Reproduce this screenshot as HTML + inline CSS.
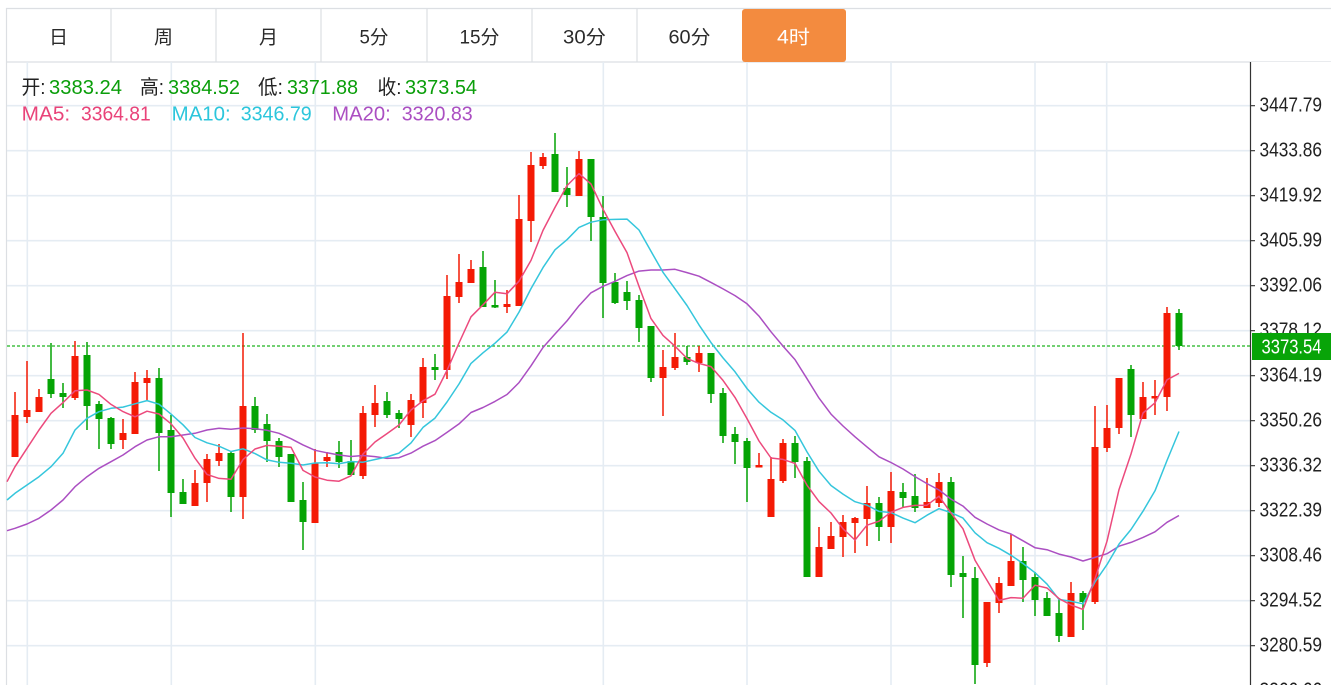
<!DOCTYPE html>
<html><head><meta charset="utf-8"><style>
html,body{margin:0;padding:0;background:#fff;overflow:hidden;width:1331px;height:685px}
svg{display:block}
text{font-family:"Liberation Sans","Noto Sans CJK SC",sans-serif}
</style></head><body>
<svg width="1331" height="685" viewBox="0 0 1331 685" xmlns="http://www.w3.org/2000/svg">
<rect x="0" y="0" width="1331" height="685" fill="#fff"/>
<path stroke="#dcdfe3" stroke-width="1.2" fill="none" d="M6 8.5H1331M6 62H1331M6.5 8V685M111 8V62M216 8V62M321 8V62M427 8V62M532 8V62M637 8V62"/>
<rect x="742" y="9" width="104" height="53" rx="3" fill="#f38b3f"/>
<g font-size="19" fill="#2a2a2a" text-anchor="middle">
<text x="58.5" y="43.5">日</text>
<text x="163.5" y="43.5">周</text>
<text x="268.5" y="43.5">月</text>
<text x="374" y="43.5" textLength="29" lengthAdjust="spacingAndGlyphs">5分</text>
<text x="479.5" y="43.5" textLength="40" lengthAdjust="spacingAndGlyphs">15分</text>
<text x="584.5" y="43.5" textLength="43" lengthAdjust="spacingAndGlyphs">30分</text>
<text x="689.5" y="43.5" textLength="42" lengthAdjust="spacingAndGlyphs">60分</text>
<text x="793.5" y="43.5" fill="#fff" textLength="33" lengthAdjust="spacingAndGlyphs">4时</text>
</g>
<path stroke="#e5ecf3" stroke-width="1.6" fill="none" d="M7 105.7H1250M7 150.7H1250M7 195.7H1250M7 240.7H1250M7 285.7H1250M7 330.7H1250M7 375.7H1250M7 420.7H1250M7 465.7H1250M7 510.7H1250M7 555.7H1250M7 600.7H1250M7 645.7H1250M27.3 62V685M171.3 62V685M315.3 62V685M603.3 62V685M747 62V685M891 62V685M1035 62V685M1106.7 62V685"/>
<g font-size="20">
<text x="21.5" y="94" fill="#222" textLength="24" lengthAdjust="spacingAndGlyphs">开:</text>
<text x="49" y="94" fill="#0a9e0a" textLength="73" lengthAdjust="spacingAndGlyphs">3383.24</text>
<text x="140" y="94" fill="#222" textLength="24" lengthAdjust="spacingAndGlyphs">高:</text>
<text x="168" y="94" fill="#0a9e0a" textLength="72" lengthAdjust="spacingAndGlyphs">3384.52</text>
<text x="258" y="94" fill="#222" textLength="25" lengthAdjust="spacingAndGlyphs">低:</text>
<text x="287" y="94" fill="#0a9e0a" textLength="71" lengthAdjust="spacingAndGlyphs">3371.88</text>
<text x="377.5" y="94" fill="#222" textLength="24" lengthAdjust="spacingAndGlyphs">收:</text>
<text x="405" y="94" fill="#0a9e0a" textLength="72" lengthAdjust="spacingAndGlyphs">3373.54</text>
<text x="21.7" y="120.7" fill="#e94379" textLength="48.5" lengthAdjust="spacingAndGlyphs">MA5:</text>
<text x="81" y="120.7" fill="#e94379" textLength="69.7" lengthAdjust="spacingAndGlyphs">3364.81</text>
<text x="171.7" y="120.7" fill="#2cc6dc" textLength="59" lengthAdjust="spacingAndGlyphs">MA10:</text>
<text x="240.7" y="120.7" fill="#2cc6dc" textLength="71" lengthAdjust="spacingAndGlyphs">3346.79</text>
<text x="332.3" y="120.7" fill="#ab4fc2" textLength="58.4" lengthAdjust="spacingAndGlyphs">MA20:</text>
<text x="401.7" y="120.7" fill="#ab4fc2" textLength="71" lengthAdjust="spacingAndGlyphs">3320.83</text>
</g>
<line x1="7" y1="346" x2="1250" y2="346" stroke="#1fb51f" stroke-width="1.3" stroke-dasharray="3,2"/>
<path stroke="#f41a05" stroke-width="1.5" fill="none" d="M15 392V457M27 361V423M39 389V412M75 341V400M123 419V449M135 372V434M147 370V400M195 470V506M207 454V502M219 444V466M243 333V519M315 449V523M327 452V467M363 406V479M375 385V427M411 394V437M423 358V418M447 275V379M459 254V303M471 260V283M507 290V313M519 195V306M531 152V242M543 153V169M579 151V196M663 350V416M675 333V370M699 346V372M759 453V467M771 457V517M783 439V483M819 527V577M831 522V549M843 515V557M855 517V553M867 486V546M891 472V543M927 478V508M939 473V507M987 602V667M999 577V613M1011 534V586M1071 582V637M1095 406V604M1107 405V452M1119 378V434M1143 382V419M1155 380V415M1167 307V411"/>
<path stroke="#05a405" stroke-width="1.5" fill="none" d="M51 343V398M63 383V408M87 342V430M99 401V449M111 417V449M159 368V471M171 415V517M183 479V504M231 451V512M255 397V433M267 414V462M279 438V467M291 454V502M303 482V550M339 441V468M351 440V475M387 392V418M399 410V428M435 354V380M483 251V307M495 280V308M555 133V192M567 167V207M591 159V241M603 196V318M615 273V304M627 281V310M639 295V342M651 326V382M687 346V365M711 353V403M723 388V443M735 427V464M747 438V502M795 436V478M807 457V577M879 497V541M903 483V508M915 474V512M951 477V587M963 556V618M975 567V684M1023 547V602M1035 572V616M1047 592V616M1059 598V642M1083 591V630M1131 365V437M1179 309V350"/>
<path stroke="#f41a05" stroke-width="7" fill="none" d="M15 415V457M27 410V417M39 397V412M75 356V398M123 433V440M135 382V434M147 378V383M195 483V506M207 459V483M219 453V461M243 406V497M315 463V523M327 457V461M363 413V476M375 403V415M411 400V425M423 367V403M447 296V370M459 282V297M471 269V283M507 304V307M519 219V306M531 165V221M543 157V166M579 159V196M663 367V378M675 357V368M699 353V363M759 465V467.5M771 479V517M783 443V481M819 547V577M831 536V549M843 522V537M855 518V523M867 503V519M891 491V527M927 502V508M939 482V503M987 602V663M999 583V603M1011 561V586M1071 593V637M1095 447V602M1107 428V448M1119 378V428M1143 397V419M1155 396V398.5M1167 313V397"/>
<path stroke="#05a405" stroke-width="7" fill="none" d="M51 379V394M63 393V397M87 355V406M99 404V419M111 418V444M159 378V433M171 430V493M183 492V504M231 453V497M255 406V430M267 424V441M279 441V457M291 454V502M303 500V522M339 452V462M351 461V475M387 401V415M399 413V419M435 367V370M483 267V307M495 305V307.5M555 154V192M567 188V195M591 159V217M603 217V283M615 282V303M627 292V301M639 300V328M651 326V378M687 357V362M711 353V394M723 393V436M735 434V442M747 441V468M795 443V462M807 461V577M879 503V527M903 492V498M915 496V508M951 482V575M963 573V577M975 578V665M1023 561V580M1035 577V600M1047 598V616M1059 613V636M1083 593V602M1131 369V415M1179 313V346"/>
<g fill="none" stroke-width="1.5" stroke-linejoin="round">
<polyline stroke="#ab4fc2" points="7,530.7 15,528.3 27,524 39,518.3 51,510 63,500 75,486.7 87,476.7 99,468.3 111,461.7 123,455 135,446.7 147,440 159,436.7 171,436.7 183,435 195,433.3 207,430 219,428.3 231,429.3 243,428 255,428.7 267,430.3 279,433.3 291,438.7 303,444.9 315,450.3 327,452.8 339,455 351,456.5 363,455.5 375,456.6 387,458.4 399,457.7 411,453.1 423,446.2 435,440.6 447,432.4 459,423.9 471,412.5 483,407.5 495,401.4 507,394.5 519,382.6 531,365.8 543,347.5 555,334 567,320.9 579,305.7 591,292.8 603,286.3 615,281.3 627,275.6 639,271.1 651,270 663,270 675,269.3 687,272.6 699,276.2 711,282.4 723,288.9 735,295.6 747,303.8 759,316.1 771,331.8 783,346.1 795,359.6 807,378.7 819,398.1 831,414.1 843,426 855,436.8 867,446.9 879,456.8 891,462.5 903,469 915,476.6 927,483.6 939,490 951,499.1 963,506.1 975,517.3 987,524 999,529.9 1011,534 1023,540.8 1035,547.7 1047,549.7 1059,554.1 1071,557 1083,561 1095,557.4 1107,553.7 1119,546.2 1131,542.4 1143,537.4 1155,531.8 1167,522.3 1179,515.5"/>
<polyline stroke="#35c6dc" points="7,500 15,493.3 27,485 39,476.7 51,466.7 63,453.3 75,430 87,418.3 99,411.7 111,408.3 123,407.1 135,403.8 147,400.6 159,404.2 171,414.1 183,424.8 195,437.5 207,442.8 219,446.2 231,451.5 243,448.8 255,453.6 267,459.9 279,462.3 291,463.2 303,465 315,463 327,462.8 339,463.7 351,461.5 363,462.2 375,459.5 387,456.9 399,453.1 411,442.9 423,427.4 435,418.1 447,402 459,384 471,363.4 483,352.8 495,343.2 507,332.1 519,312.1 531,288.6 543,267.6 555,249.8 567,239.7 579,227.4 591,222.2 603,219.8 615,219.4 627,219.1 639,230 651,251.3 663,272.3 675,288.8 687,305.5 699,324.9 711,342.6 723,357.9 735,371.8 747,388.5 759,402.2 771,412.3 783,419.9 795,430.4 807,451.9 819,471.3 831,485.5 843,494.1 855,501.7 867,505.2 879,511.4 891,512.6 903,518.1 915,522.7 927,515.2 939,508.7 951,512.6 963,518.1 975,532.8 987,542.7 999,548.3 1011,555.3 1023,563.5 1035,572.7 1047,584.1 1059,599.5 1071,601.3 1083,603.8 1095,582 1107,564.6 1119,544.1 1131,529.5 1143,511.2 1155,490.8 1167,460.5 1179,431.5"/>
<polyline stroke="#ec4a7d" points="7,481.7 15,466.7 27,448.3 39,430 51,413.3 63,402.6 75,390.8 87,390 99,394.4 111,404.4 123,411.6 135,416.8 147,411.2 159,414 171,423.8 183,438 195,458.2 207,474.4 219,478.4 231,479.2 243,459.6 255,449 267,445.4 279,446.2 291,447.2 303,470.4 315,477 327,480.2 339,481.2 351,475.8 363,454 375,442 387,433.6 399,425 411,410 423,400.8 435,394.2 447,370.4 459,343 471,316.8 483,304.8 495,292.2 507,293.8 519,281.2 531,260.4 543,230.4 555,207.4 567,185.6 579,173.6 591,184 603,209.2 615,231.4 627,252.6 639,286.4 651,318.6 663,335.4 675,346.2 687,358.4 699,363.4 711,366.6 723,380.4 735,397.4 747,418.6 759,441 771,458 783,459.4 795,463.4 807,485.2 819,501.6 831,513 843,528.8 855,540 867,525.2 879,521.2 891,512.2 903,507.4 915,505.4 927,505.2 939,496.2 951,513 963,528.8 975,560.2 987,580.2 999,600.4 1011,597.6 1023,598.2 1035,585.2 1047,588 1059,598.6 1071,605 1083,609.4 1095,578.8 1107,541.2 1119,489.6 1131,454 1143,413 1155,402.8 1167,379.8 1179,373.4"/>
</g>
<rect x="1251" y="62" width="80" height="623" fill="#fff"/>
<path stroke="#333" stroke-width="1.2" fill="none" d="M1250.5 62V685M1250 105.7h5M1250 150.7h5M1250 195.7h5M1250 240.7h5M1250 285.7h5M1250 330.7h5M1250 375.7h5M1250 420.7h5M1250 465.7h5M1250 510.7h5M1250 555.7h5M1250 600.7h5M1250 645.7h5"/>
<g font-size="20.5" fill="#222">
<text x="1259.5" y="111.7" textLength="62.5" lengthAdjust="spacingAndGlyphs">3447.79</text>
<text x="1259.5" y="156.7" textLength="62.5" lengthAdjust="spacingAndGlyphs">3433.86</text>
<text x="1259.5" y="201.7" textLength="62.5" lengthAdjust="spacingAndGlyphs">3419.92</text>
<text x="1259.5" y="246.7" textLength="62.5" lengthAdjust="spacingAndGlyphs">3405.99</text>
<text x="1259.5" y="291.7" textLength="62.5" lengthAdjust="spacingAndGlyphs">3392.06</text>
<text x="1259.5" y="336.7" textLength="62.5" lengthAdjust="spacingAndGlyphs">3378.12</text>
<text x="1259.5" y="381.7" textLength="62.5" lengthAdjust="spacingAndGlyphs">3364.19</text>
<text x="1259.5" y="426.7" textLength="62.5" lengthAdjust="spacingAndGlyphs">3350.26</text>
<text x="1259.5" y="471.7" textLength="62.5" lengthAdjust="spacingAndGlyphs">3336.32</text>
<text x="1259.5" y="516.7" textLength="62.5" lengthAdjust="spacingAndGlyphs">3322.39</text>
<text x="1259.5" y="561.7" textLength="62.5" lengthAdjust="spacingAndGlyphs">3308.46</text>
<text x="1259.5" y="606.7" textLength="62.5" lengthAdjust="spacingAndGlyphs">3294.52</text>
<text x="1259.5" y="651.7" textLength="62.5" lengthAdjust="spacingAndGlyphs">3280.59</text>
<text x="1259.5" y="696.7" textLength="62.5" lengthAdjust="spacingAndGlyphs">3266.66</text>
</g>
<rect x="1252" y="333" width="79" height="27" fill="#08a408"/>
<text x="1261.5" y="353.3" font-size="20.5" fill="#fff" textLength="60" lengthAdjust="spacingAndGlyphs">3373.54</text>
</svg>
</body></html>
